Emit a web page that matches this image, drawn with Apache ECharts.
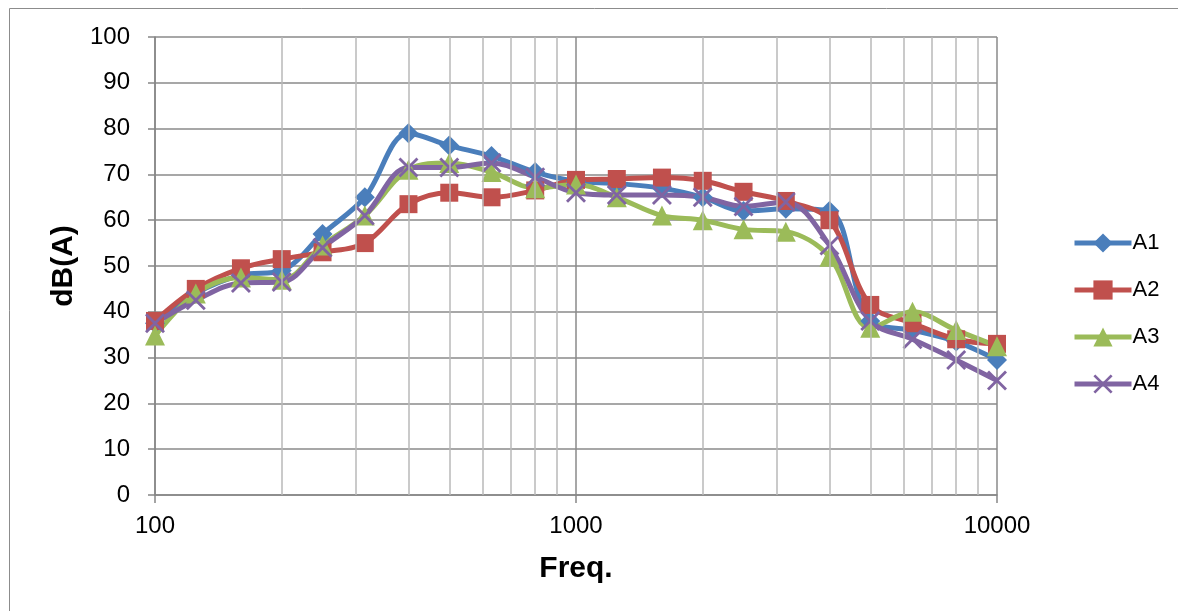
<!DOCTYPE html>
<html>
<head>
<meta charset="utf-8">
<script src="https://cdn.jsdelivr.net/npm/echarts@6/dist/echarts.min.js"></script>
<style>
html, body { margin:0; padding:0; background:#fff; }
#main { width:1178px; height:611px; }
</style>
</head>
<body>
<div id="main"></div>
<script>
var freqs = [100,125,160,200,250,315,400,500,630,800,1000,1250,1600,2000,2500,3150,4000,5000,6300,8000,10000];
var a1 = [37.5,44,48,49,57,65,79,76.3,74,70.5,68.5,68,67,65,62,62.5,62,38,36,33.5,29.5];
var a2 = [38,45,49.5,51.5,53,55,63.5,66,65,66.5,68.8,69,69.3,68.6,66.2,64.2,60,41.5,37.5,34,33];
var a3 = [34.8,44,47.5,47,54.5,61,71,72.5,70.5,67,67.8,65,61,60,58,57.5,52,36.5,40,36,32.5];
var a4 = [37.5,42.5,46.3,46.5,54,61,71.5,71.5,72.5,69.4,66,65.5,65.5,65,63,64,54.5,38,34,29.5,25];
var minorGrid = [200,300,400,500,600,700,800,900,2000,3000,4000,5000,6000,7000,8000,9000];

(function(){
    var chart = echarts.init(document.getElementById('main'));
    var font = '"Liberation Sans", Arial, sans-serif';
    var xMark = 'path://M0,1 L1,0 L10,9 L9,10 Z M9,0 L10,1 L1,10 L0,9 Z';

    function pairs(vals){
        var out = [];
        for (var i = 0; i < freqs.length; i++) out.push([freqs[i], vals[i]]);
        return out;
    }
    function line(name, vals, color, symbol, size){
        return {
            name: name,
            type: 'line',
            smooth: 0.35,
            data: pairs(vals),
            symbol: symbol,
            symbolSize: size,
            z: 3,
            lineStyle: { color: color, width: 5 },
            itemStyle: { color: color }
        };
    }

    var option = {
        backgroundColor: '#fff',
        animation: false,
        graphic: [{
            type: 'rect',
            shape: { x: 9.5, y: 8.5, width: 1200, height: 700 },
            style: { fill: 'none', stroke: '#8c8c8c', lineWidth: 1 },
            silent: true
        }],
        grid: { left: 155, right: 181, top: 37, bottom: 116 },
        legend: {
            orient: 'vertical',
            left: 1067,
            top: 227,
            itemWidth: 57,
            itemHeight: 24,
            itemGap: 25,
            lineStyle: { width: 5 },
            textStyle: { fontFamily: font, fontSize: 22, color: '#000', padding: [0, 0, 0, -4] },
            data: ['A1', 'A2', 'A3', 'A4']
        },
        xAxis: {
            type: 'log',
            logBase: 10,
            min: 100,
            max: 10000,
            name: 'Freq.',
            nameLocation: 'middle',
            nameGap: 59,
            nameTextStyle: { fontFamily: font, fontSize: 30, fontWeight: 'bold', color: '#000' },
            axisLine: { lineStyle: { color: '#868686', width: 1.5 } },
            axisTick: { show: true, length: 8, lineStyle: { color: '#868686', width: 1.5 } },
            axisLabel: {
                fontFamily: font, fontSize: 24, color: '#000', margin: 19,
                formatter: function(v){ return String(Math.round(v)); }
            },
            splitLine: { show: true, lineStyle: { color: '#8a8a8a', width: 1.5 } }
        },
        yAxis: {
            type: 'value',
            min: 0,
            max: 100,
            interval: 10,
            name: 'dB(A)',
            nameLocation: 'middle',
            nameGap: 75,
            nameTextStyle: { fontFamily: font, fontSize: 30, fontWeight: 'bold', color: '#000' },
            axisLine: { show: true, lineStyle: { color: '#868686', width: 1.5 } },
            axisTick: { show: true, length: 7, lineStyle: { color: '#868686', width: 1.5 } },
            axisLabel: { fontFamily: font, fontSize: 24, color: '#000', margin: 25 },
            splitLine: { show: true, lineStyle: { color: '#8a8a8a', width: 1.5 } }
        },
        series: [
            {
                name: 'grid',
                type: 'line',
                data: [],
                z: 1,
                silent: true,
                markLine: {
                    silent: true,
                    symbol: 'none',
                    label: { show: false },
                    lineStyle: { color: '#b8b8b8', width: 1.5, type: 'solid' },
                    data: minorGrid.map(function(v){ return { xAxis: v }; })
                }
            },
            line('A1', a1, '#4a7ebb', 'diamond', 20),
            line('A2', a2, '#c0504d', 'rect', 18),
            line('A3', a3, '#9bbb59', 'triangle', 20),
            line('A4', a4, '#8064a2', xMark, 20)
        ]
    };
    chart.setOption(option);
})();
</script>
</body>
</html>
